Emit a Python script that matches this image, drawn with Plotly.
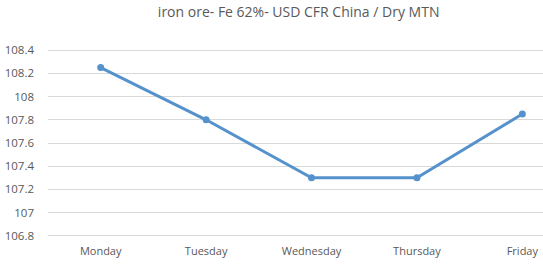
import plotly.graph_objects as go

days = ["Monday", "Tuesday", "Wednesday", "Thursday", "Friday"]
prices = [108.25, 107.8, 107.3, 107.3, 107.85]
y_ticks = [106.8, 107, 107.2, 107.4, 107.6, 107.8, 108, 108.2, 108.4]
y_tick_text = ["106.8", "107", "107.2", "107.4", "107.6", "107.8", "108", "108.2", "108.4"]
title_text = "iron ore- Fe 62%- USD CFR China / Dry MTN"

fig = go.Figure()
fig.add_trace(go.Scatter(
    x=days, y=prices, mode="lines+markers",
    line=dict(color="#5592CC", width=3),
    marker=dict(color="#5592CC", size=7),
    hoverinfo="skip",
))

fig.update_layout(
    width=543, height=265,
    margin=dict(l=48, r=0, t=49, b=28),
    paper_bgcolor="white", plot_bgcolor="white",
    showlegend=False,
    title=dict(text=title_text, x=0.55, xanchor="center", y=0.955, yanchor="middle",
               font=dict(family="Open Sans", size=14, color="#595959")),
    font=dict(family="Open Sans", color="#595959"),
)
fig.update_xaxes(
    type="category", range=[-0.5, 4.196],
    showgrid=False, showline=False, zeroline=False,
    tickfont=dict(size=11, color="#595959"),
    ticks="", ticklabelstandoff=6,
)
fig.update_yaxes(
    range=[106.79, 108.41],
    tickvals=y_ticks, ticktext=y_tick_text,
    showgrid=True, gridcolor="#D9D9D9", gridwidth=1,
    zeroline=False, showline=False,
    tickfont=dict(size=11.5, color="#595959"),
    ticks="", ticklabelstandoff=13,
)

fig.write_html("out.html")
